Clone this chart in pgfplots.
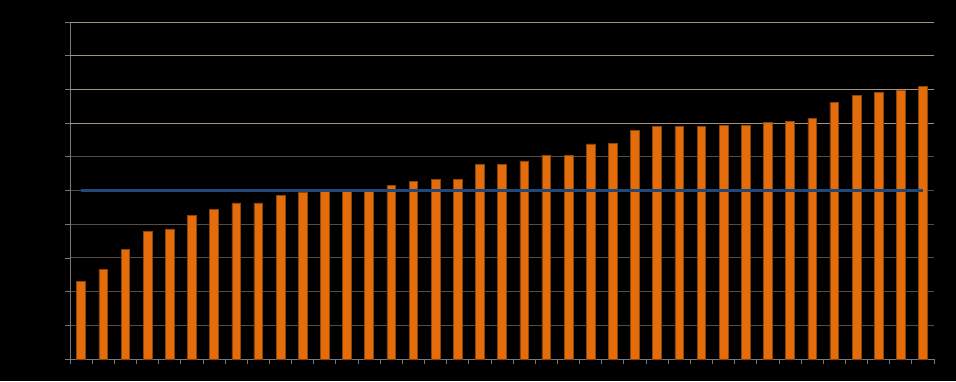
\documentclass[border=0pt]{standalone}
\usepackage{pgfplots}
\pgfplotsset{compat=1.18}
\definecolor{barfill}{RGB}{228,108,10}
\definecolor{baredge}{RGB}{140,70,10}
\definecolor{refblue}{RGB}{31,73,125}
\definecolor{gridlight}{RGB}{165,145,125}
\definecolor{griddark}{RGB}{90,75,65}
\definecolor{axgray}{RGB}{120,120,120}
\begin{document}
\begin{tikzpicture}[x=1pt,y=1pt]
\fill[black] (0,0) rectangle (956,381);
\begin{axis}[
  at={(70pt,22pt)}, anchor=origin,
  scale only axis, width=864pt, height=337pt,
  xmin=0.5, xmax=39.5, ymin=0, ymax=100,
  axis x line*=bottom, axis y line*=left,
  axis line style={axgray, line width=0.8pt},
  xtick={0.5,1.5,...,39.5}, xticklabels={},
  ytick={0,10,20,30,40,50,60}, yticklabels={},
  extra y ticks={70,80,90,100}, extra y tick labels={},
  ymajorgrids,
  major grid style={griddark, line width=0.9pt},
  extra y tick style={grid=major, major grid style={gridlight, line width=0.9pt}},
  tick align=outside, major tick length=5pt,
  tick style={axgray, line width=0.8pt},
  clip=false,
]
\addplot[ybar, bar width=8.7pt, fill=barfill, draw=baredge, line width=0.5pt] coordinates {
(1,23.1) (2,26.5) (3,32.6) (4,37.8) (5,38.6) (6,42.7) (7,44.3) (8,46.3)
(9,46.3) (10,48.5) (11,49.4) (12,49.7) (13,49.7) (14,49.7) (15,51.6) (16,52.6)
(17,53.2) (18,53.4) (19,57.8) (20,57.8) (21,58.8) (22,60.5) (23,60.5) (24,63.8)
(25,63.9) (26,67.9) (27,69.0) (28,69.0) (29,69.1) (30,69.3) (31,69.5) (32,70.3)
(33,70.5) (34,71.4) (35,76.1) (36,78.2) (37,79.2) (38,79.6) (39,81.0)
};
\addplot[refblue, line width=3pt, no marks] coordinates {(1,50) (39,50)};
\end{axis}
\end{tikzpicture}
\end{document}
